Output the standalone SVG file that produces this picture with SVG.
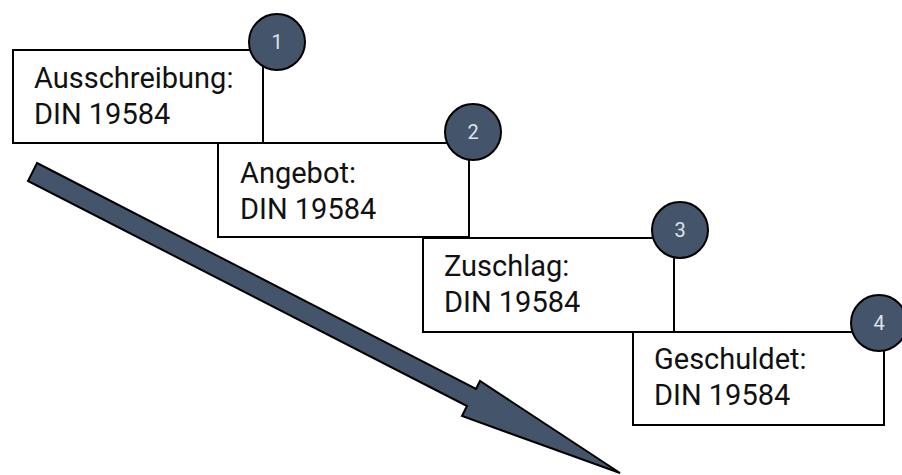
<svg xmlns="http://www.w3.org/2000/svg" width="902" height="475" viewBox="0 0 902 475">
<style>
.box{fill:#fff;stroke:#000;stroke-width:2}
.lbl{font-family:Roboto,"Liberation Sans",sans-serif;font-size:29px;fill:#111}
.badge{fill:#44546a;stroke:#000;stroke-width:2}
.num{font-family:Roboto,"Liberation Sans",sans-serif;font-size:20px;fill:#dde3ec;text-anchor:middle}
.arrow{fill:#44546a;stroke:#000;stroke-width:2;stroke-linejoin:miter}
</style>
<rect width="902" height="475" fill="#fff"/>
<g id="connectors">
<polygon class="arrow" points="37,163 476,389 480,381 620,473 462,416 467,406 28,181"/>
</g>
<g id="step1">
<rect class="box" x="13" y="50" width="250" height="93"/>
<text class="lbl" x="34" y="88">Ausschreibung:</text>
<text class="lbl" x="34" y="124">DIN 19584</text>
<circle class="badge" cx="277" cy="42" r="28"/>
<text class="num" x="277" y="49">1</text>
</g>
<g id="step2">
<rect class="box" x="218" y="143" width="251" height="94"/>
<text class="lbl" x="240" y="183">Angebot:</text>
<text class="lbl" x="240" y="219">DIN 19584</text>
<circle class="badge" cx="473" cy="132" r="28"/>
<text class="num" x="473" y="139">2</text>
</g>
<g id="step3">
<rect class="box" x="423" y="238" width="251" height="94"/>
<text class="lbl" x="444" y="276">Zuschlag:</text>
<text class="lbl" x="444" y="312">DIN 19584</text>
<circle class="badge" cx="680" cy="230" r="28"/>
<text class="num" x="680" y="237">3</text>
</g>
<g id="step4">
<rect class="box" x="633" y="332" width="251" height="93"/>
<text class="lbl" x="654" y="369">Geschuldet:</text>
<text class="lbl" x="654" y="405">DIN 19584</text>
<circle class="badge" cx="879" cy="323" r="28"/>
<text class="num" x="879" y="330">4</text>
</g>
</svg>
